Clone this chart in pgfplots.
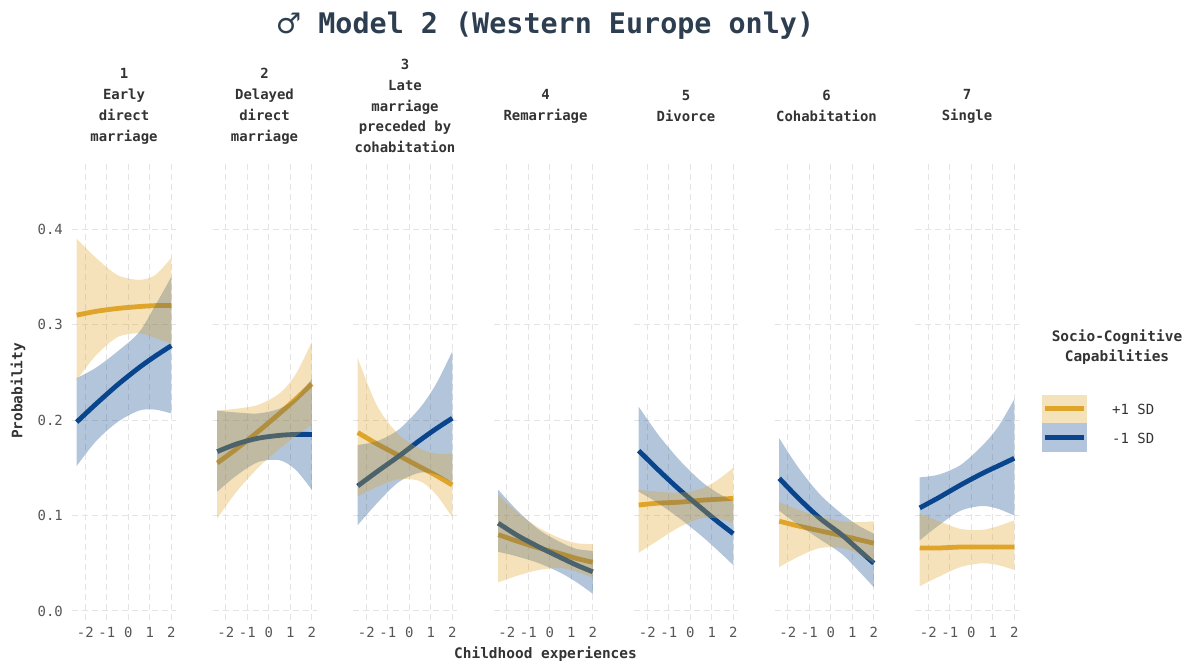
\documentclass[border=0pt]{standalone}
\usepackage{pgfplots}
\pgfplotsset{compat=1.18}
\usepackage{pgfplotstable}
\usepgfplotslibrary{fillbetween}
\usepackage{fontspec}
\setmainfont{DejaVu Sans Mono}
\newfontfamily\symfont{DejaVu Sans}

\definecolor{goldc}{HTML}{DFA42A}
\definecolor{bluec}{HTML}{08458C}
\definecolor{gridc}{HTML}{E4E4E4}
\definecolor{tickc}{HTML}{555555}
\definecolor{labc}{HTML}{333333}
\definecolor{titlec}{HTML}{2D3E50}
\definecolor{goldkey}{HTML}{F4E2BA}
\definecolor{bluekey}{HTML}{B2C5DD}

% predicted probabilities: x, +1 SD (line, lower, upper), -1 SD (line, lower, upper)
\pgfplotstableread{
x    gl    glo   ghi   bl    blo   bhi
-2.4 0.310 0.242 0.390 0.198 0.152 0.244
-1.5 0.314 0.268 0.370 0.217 0.178 0.255
-0.5 0.317 0.287 0.352 0.237 0.198 0.272
0.5  0.319 0.291 0.347 0.255 0.210 0.292
1.25 0.320 0.286 0.352 0.267 0.211 0.320
2    0.320 0.280 0.370 0.278 0.207 0.350
}\tabA
\pgfplotstableread{
x    gl    glo   ghi   bl    blo   bhi
-2.4 0.155 0.097 0.210 0.167 0.125 0.210
-1.5 0.170 0.125 0.212 0.175 0.142 0.208
-0.5 0.188 0.150 0.216 0.181 0.156 0.207
0.5  0.207 0.170 0.228 0.184 0.158 0.212
1.25 0.222 0.183 0.248 0.185 0.148 0.223
2    0.238 0.195 0.282 0.185 0.127 0.243
}\tabB
\pgfplotstableread{
x    gl    glo   ghi   bl    blo   bhi
-2.4 0.187 0.120 0.265 0.131 0.090 0.174
-1.5 0.175 0.130 0.215 0.146 0.113 0.178
-0.5 0.163 0.138 0.185 0.162 0.135 0.190
0.5  0.151 0.136 0.170 0.179 0.145 0.213
1.25 0.142 0.122 0.165 0.191 0.143 0.238
2    0.132 0.098 0.165 0.202 0.135 0.272
}\tabC
\pgfplotstableread{
x    gl    glo   ghi   bl    blo   bhi
-2.4 0.080 0.030 0.122 0.092 0.062 0.127
-1.5 0.073 0.037 0.103 0.079 0.057 0.105
-0.5 0.066 0.043 0.087 0.067 0.050 0.085
0.5  0.060 0.045 0.076 0.056 0.040 0.072
1.25 0.055 0.041 0.071 0.048 0.030 0.065
2    0.051 0.035 0.070 0.041 0.018 0.063
}\tabD
\pgfplotstableread{
x    gl    glo   ghi   bl    blo   bhi
-2.4 0.111 0.061 0.127 0.168 0.125 0.214
-1.5 0.113 0.074 0.125 0.148 0.113 0.185
-0.5 0.114 0.088 0.124 0.127 0.097 0.158
0.5  0.116 0.097 0.128 0.108 0.079 0.136
1.25 0.117 0.097 0.137 0.094 0.064 0.124
2    0.118 0.092 0.150 0.081 0.048 0.115
}\tabE
\pgfplotstableread{
x    gl    glo   ghi   bl    blo   bhi
-2.4 0.094 0.046 0.114 0.139 0.105 0.181
-1.5 0.089 0.057 0.106 0.118 0.090 0.150
-0.5 0.084 0.066 0.099 0.097 0.075 0.122
0.5  0.079 0.066 0.094 0.080 0.060 0.102
1.25 0.075 0.060 0.093 0.065 0.043 0.090
2    0.071 0.050 0.094 0.050 0.025 0.081
}\tabF
\pgfplotstableread{
x    gl    glo   ghi   bl    blo   bhi
-2.4 0.066 0.026 0.102 0.108 0.074 0.140
-1.5 0.066 0.036 0.094 0.119 0.090 0.143
-0.5 0.067 0.046 0.086 0.132 0.105 0.153
0.5  0.067 0.050 0.085 0.144 0.110 0.173
1.25 0.067 0.048 0.089 0.152 0.107 0.193
2    0.067 0.043 0.095 0.160 0.100 0.222
}\tabG

\pgfplotsset{
  panel/.style={
    set layers,
    anchor=south west, scale only axis,
    width=104bp, height=458bp,
    xmin=-2.62, xmax=2.22, ymin=-0.01, ymax=0.47,
    xtick={-2,-1,0,1,2}, xticklabels={-2,-1,0,1,2},
    ytick={0,0.1,0.2,0.3,0.4},
    grid=major,
    major grid style={gridc, line width=1bp, dash pattern=on 6bp off 4bp},
    axis line style={draw=none},
    major tick length=0pt, tick style={draw=none},
    tick label style={font=\fontsize{14}{14}\selectfont, text=tickc},
    xticklabel style={inner sep=0pt, yshift=-6.5bp},
    yticklabel style={inner sep=0pt, xshift=-9bp},
    yticklabels={},
  },
  % lines sit below the bands (which go on the pre main layer)
  goldline/.style={goldc, line width=4.8bp, smooth, on layer=axis lines},
  blueline/.style={bluec, line width=4.8bp, smooth, on layer=axis lines},
}

% one facet: left edge, table, extra axis options
% -1 SD band first, then +1 SD band over it
\newcommand{\facet}[3]{%
\begin{axis}[panel, at={(#1,45.5bp)}, #3]
  \addplot[goldline] table[x=x, y=gl]{#2};
  \addplot[blueline] table[x=x, y=bl]{#2};
  \addplot[draw=none, smooth, name path=blo] table[x=x, y=blo]{#2};
  \addplot[draw=none, smooth, name path=bhi] table[x=x, y=bhi]{#2};
  \addplot[draw=none, fill=bluec, fill opacity=0.31] fill between[of=blo and bhi];
  \addplot[draw=none, smooth, name path=glo] table[x=x, y=glo]{#2};
  \addplot[draw=none, smooth, name path=ghi] table[x=x, y=ghi]{#2};
  \addplot[draw=none, fill=goldc, fill opacity=0.32] fill between[of=glo and ghi];
\end{axis}}

\begin{document}
\begin{tikzpicture}

\facet{72bp}{\tabA}{yticklabels={0.0,0.1,0.2,0.3,0.4}}
\facet{212.5bp}{\tabB}{}
\facet{353bp}{\tabC}{}
\facet{493.5bp}{\tabD}{}
\facet{634bp}{\tabE}{}
\facet{774.5bp}{\tabF}{}
\facet{915bp}{\tabG}{}

\begin{scope}[x=1bp, y=1bp]
% title
\node[text=titlec, font=\fontsize{28.5}{28.5}\selectfont\bfseries] at (545,640)
  {{\symfont ♂} Model 2 (Western Europe only)};

% facet headers
\begin{scope}[every node/.style={align=center, text=labc,
    font=\fontsize{14}{21}\selectfont\bfseries}]
\node at (124,560) {1\\Early\\direct\\marriage};
\node at (264.5,560) {2\\Delayed\\direct\\marriage};
\node at (405,560) {3\\Late\\marriage\\preceded by\\cohabitation};
\node at (545.5,560) {4\\Remarriage};
\node at (686,560) {5\\Divorce};
\node at (826.5,560) {6\\Cohabitation};
\node at (967,560) {7\\Single};
\end{scope}

% axis titles
\node[text=labc, font=\fontsize{14.5}{14.5}\selectfont\bfseries] at (545.5,12) {Childhood experiences};
\node[text=labc, font=\fontsize{14.5}{14.5}\selectfont\bfseries, rotate=90] at (18,275) {Probability};

% legend
\node[align=center, text=labc, font=\fontsize{14.5}{20}\selectfont\bfseries] at (1117,319)
  {Socio-Cognitive\\Capabilities};
\fill[goldkey] (1042,243) rectangle (1087,271);
\fill[bluekey] (1042,214) rectangle (1087,243);
\draw[goldc, line width=5bp] (1045,257) -- (1084,257);
\draw[bluec, line width=5bp] (1045,228) -- (1084,228);
\node[anchor=west, inner sep=0pt, text=labc, font=\fontsize{14}{14}\selectfont] at (1112,257) {+1 SD};
\node[anchor=west, inner sep=0pt, text=labc, font=\fontsize{14}{14}\selectfont] at (1112,228) {-1 SD};

\pgfresetboundingbox
\useasboundingbox (0,0) rectangle (1193,666);
\end{scope}
\end{tikzpicture}
\end{document}
